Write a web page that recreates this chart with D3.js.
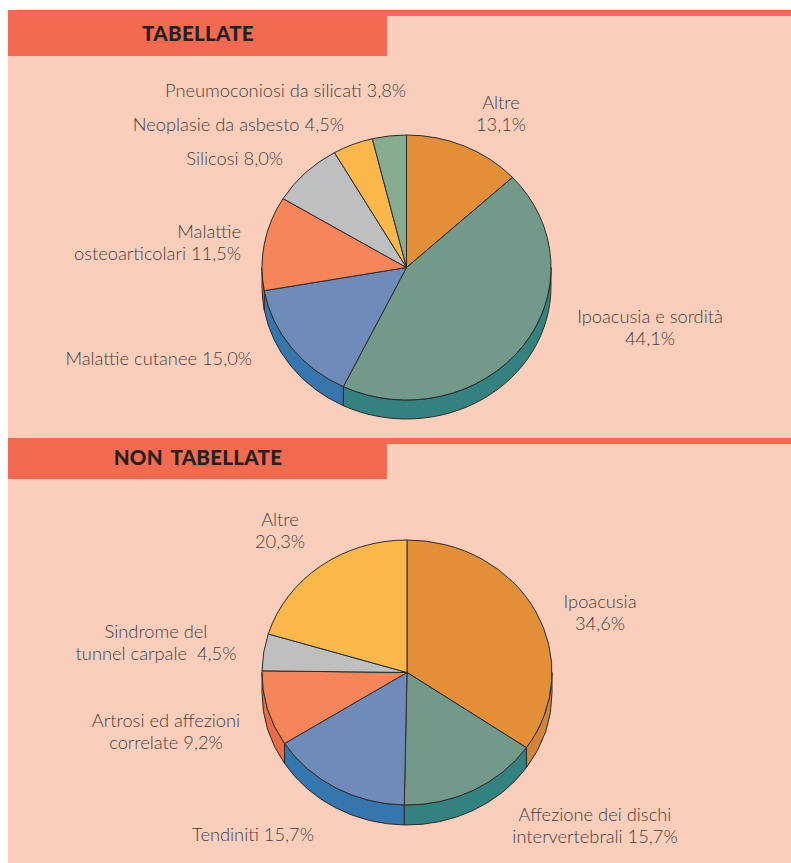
<!DOCTYPE html>
<html>
<head>
<meta charset="utf-8">
<script src="https://cdn.jsdelivr.net/npm/d3@7"></script>
<style>
  body { margin: 0; background: #ffffff; }
  text { white-space: pre; }
</style>
</head>
<body>
<div id="container"></div>
<script>
/* CONSTANTS AND GLOBALS */
const width = 791,
    height = 863;

// DATA - tabellate
const tabLabels = ["Altre", "Ipoacusia e sordità", "Malattie cutanee", "Malattie osteoarticolari",
    "Silicosi", "Neoplasie da asbesto", "Pneumoconiosi da silicati"];
const tabValues = [13.1, 44.1, 15.0, 11.5, 8.0, 4.5, 3.8];

// DATA - non tabellate
const nonLabels = ["Ipoacusia", "Affezione dei dischi intervertebrali", "Tendiniti",
    "Artrosi ed affezioni correlate", "Sindrome del tunnel carpale", "Altre"];
const nonValues = [34.6, 15.7, 15.7, 9.2, 4.5, 20.3];

// colours (top face / side)
const tabTop = ["#E38F37", "#72998A", "#6E8BB9", "#F6855A", "#BEBFC1", "#FAB84B", "#88AC8E"];
const tabSide = ["#D3843B", "#348280", "#3576AF", "#E86C45", "#A9AAAD", "#E9A63E", "#6F977A"];
const nonTop = ["#E38F37", "#72998A", "#6E8BB9", "#F6855A", "#BEBFC1", "#FAB84B"];
const nonSide = ["#D3843B", "#348280", "#3576AF", "#E86C45", "#A9AAAD", "#E9A63E"];

const fmt = v => d3.format(".1f")(v).replace(".", ",") + "%";

// label layout: [lines, x, y of first baseline, anchor]
const tabText = [
    [["Altre", fmt(tabValues[0])], 501, 109, "middle"],
    [["Ipoacusia e sordità", fmt(tabValues[1])], 650, 323, "middle"],
    [["Malattie cutanee " + fmt(tabValues[2])], 252, 365, "end"],
    [["Malattie", "osteoarticolari " + fmt(tabValues[3])], 241, 238, "end"],
    [["Silicosi " + fmt(tabValues[4])], 283, 165, "end"],
    [["Neoplasie da asbesto " + fmt(tabValues[5])], 344, 131, "end"],
    [["Pneumoconiosi da silicati " + fmt(tabValues[6])], 406, 97, "end"]
];
const nonText = [
    [["Ipoacusia", fmt(nonValues[0])], 600, 608, "middle"],
    [["Affezione dei dischi", "intervertebrali " + fmt(nonValues[1])], 595, 821, "middle"],
    [["Tendiniti " + fmt(nonValues[2])], 253, 841, "middle"],
    [["Artrosi ed affezioni", "correlate " + fmt(nonValues[3])], 166, 727, "middle"],
    [["Sindrome del", "tunnel carpale  " + fmt(nonValues[4])], 156, 638, "middle"],
    [["Altre", fmt(nonValues[5])], 280, 526, "middle"]
];

const svg = d3.select("#container")
    .append("svg")
    .attr("width", width)
    .attr("height", height)

// PANEL + HEADERS
svg.append("rect")
    .attr("x", 8).attr("y", 10)
    .attr("width", width - 8).attr("height", height - 10)
    .attr("fill", "#FACEBB")

function header(y, h, title, baseline) {
    svg.append("rect")
        .attr("x", 8).attr("y", y)
        .attr("width", width - 8).attr("height", 6)
        .attr("fill", "#F26A4F")
    svg.append("rect")
        .attr("x", 8).attr("y", y)
        .attr("width", 379).attr("height", h)
        .attr("fill", "#F26A4F")
    svg.append("text")
        .attr("x", 198)
        .attr("y", baseline)
        .attr("text-anchor", "middle")
        .style("font-family", "Lato, sans-serif")
        .style("font-weight", 900)
        .style("font-size", "20.5px")
        .style("letter-spacing", "0.3px")
        .style("word-spacing", "3px")
        .attr("fill", "#222222")
        .text(title)
}
header(10, 46, "TABELLATE", 41)
header(438, 41, "NON TABELLATE", 465)

// PIE
const pie = d3.pie().sort(null).value(d => d);

function drawPie(values, tops, sides, texts, cx, cy, rx, ry, depth) {
    const arcs = pie(values);
    const pt = (a, dy) => [cx + rx * Math.sin(a), cy - ry * Math.cos(a) + dy];
    const g = svg.append("g");

    // sides (only front half visible)
    arcs.forEach((d, i) => {
        const s = Math.max(d.startAngle, Math.PI / 2),
            e = Math.min(d.endAngle, Math.PI * 1.5);
        if (e <= s) return;
        const a = pt(s, 0), b = pt(e, 0), c = pt(e, depth), f = pt(s, depth);
        const path = `M${a}A${rx},${ry} 0 0 1 ${b}L${c}A${rx},${ry} 0 0 0 ${f}Z`;
        g.append("path")
            .attr("d", path)
            .attr("fill", sides[i])
            .attr("stroke", "#2b2b2b")
            .attr("stroke-width", 1)
            .attr("stroke-linejoin", "round")
    });

    // top faces
    g.selectAll("path.slice")
        .data(arcs)
        .join("path")
        .attr("class", "slice")
        .attr("d", d => {
            const a = pt(d.startAngle, 0), b = pt(d.endAngle, 0);
            const large = d.endAngle - d.startAngle > Math.PI ? 1 : 0;
            return `M${cx},${cy}L${a}A${rx},${ry} 0 ${large} 1 ${b}Z`;
        })
        .attr("fill", (d, i) => tops[i])
        .attr("stroke", "#2b2b2b")
        .attr("stroke-width", 1)
        .attr("stroke-linejoin", "round")

    // LABELS
    texts.forEach(t => {
        const txt = svg.append("text")
            .attr("text-anchor", t[3])
            .style("font-family", "Lato, sans-serif")
            .style("font-weight", 300)
            .style("font-size", "18.3px")
            .attr("fill", "#453f3f")
        t[0].forEach((line, j) => {
            txt.append("tspan")
                .attr("x", t[1])
                .attr("y", t[2] + j * 21.5)
                .text(line)
        })
    })
}

drawPie(tabValues, tabTop, tabSide, tabText, 406.5, 267.5, 144.5, 132.5, 19)
drawPie(nonValues, nonTop, nonSide, nonText, 407, 672.5, 145, 132.5, 20)
</script>
</body>
</html>
